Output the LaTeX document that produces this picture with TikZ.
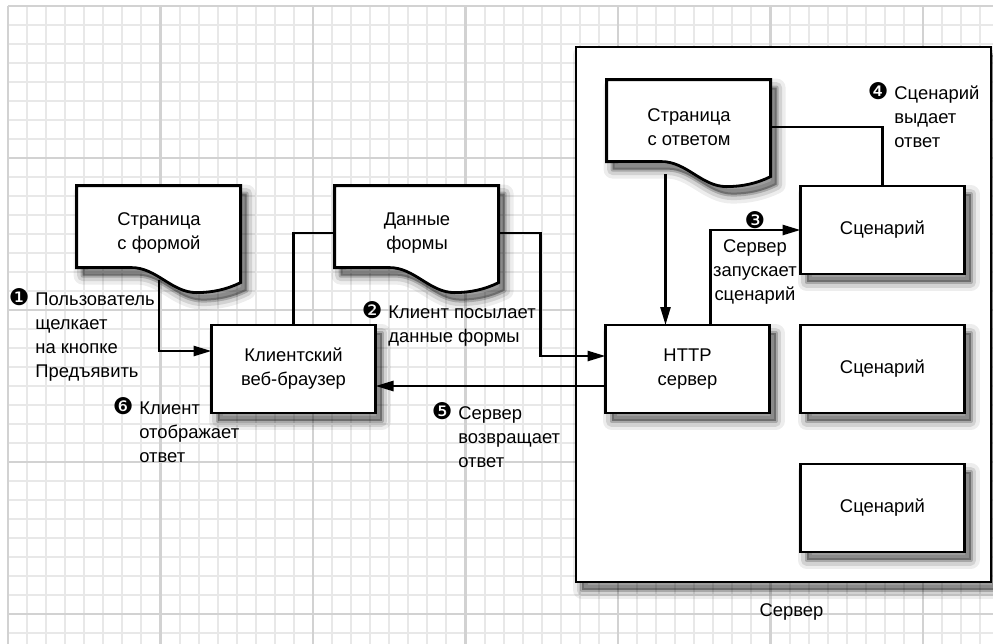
\documentclass[tikz,border=0pt]{standalone}
\usepackage{fontspec}
\setmainfont{Liberation Sans}
\newfontfamily\dingfont{DejaVu Sans}
\usetikzlibrary{arrows.meta,positioning,calc,fit,shadows}
\definecolor{GridMinor}{HTML}{E8E8E8}
\definecolor{GridMajor}{HTML}{D2D2D2}
\pgfdeclarelayer{grid}
\pgfdeclarelayer{frame}
\pgfdeclarelayer{lines}
\pgfdeclarelayer{docs}
\pgfsetlayers{grid,frame,lines,docs,main}
\newcommand{\stepmark}[1]{\llap{{\dingfont\fontsize{11.5}{12}\selectfont #1}\hspace{3pt}}}
\newcommand{\docoutline}[1]{%
  \path[docpage, shift={(#1.north west)}, x=1pt, y=1pt]
    (0,0) -- (82,0) -- (82,-48.5)
    .. controls (75,-52) and (67.5,-53.5) .. (60,-53.5)
    .. controls (47.5,-53.5) and (40,-41) .. (27.5,-41)
    -- (0,-41) -- cycle;}
\tikzset{
  flow/.style={-{Triangle[length=9pt,width=5pt]}, line width=1.3pt},
  link/.style={line width=1.3pt},
  softshadow/.style={
    general shadow={draw=black, fill=black, line width=9pt, line join=round, opacity=.07,
                    shadow xshift=3pt, shadow yshift=-4pt},
    general shadow={draw=black, fill=black, line width=5.5pt, line join=round, opacity=.11,
                    shadow xshift=3pt, shadow yshift=-4pt},
    general shadow={draw=black, fill=black, line width=2pt, line join=round, opacity=.2,
                    shadow xshift=3pt, shadow yshift=-4pt}},
  box/.style={draw, line width=1.4pt, fill=white, minimum width=82pt, outer sep=0pt,
              minimum height=44pt, align=center, inner sep=2pt, softshadow},
  doc/.style={minimum width=82pt, minimum height=47pt, align=center, inner sep=0pt},
  docpage/.style={draw, line width=1.4pt, fill=white, softshadow},
  serverframe/.style={draw, line width=1.4pt, fill=white, inner sep=0pt, softshadow},
  note/.style={align=left, anchor=north west, inner sep=0pt},
  minorgrid/.style={draw=GridMinor, line width=1pt},
  majorgrid/.style={draw=GridMajor, line width=1.3pt},
}

\begin{document}
\begin{tikzpicture}[x=0.5pt, y=-0.5pt, font=\fontsize{9.2}{12}\selectfont]
  \useasboundingbox (0,0) rectangle (993,644);
  \begin{pgfonlayer}{grid}
    \fill[white] (0,0) rectangle (993,644);
    \foreach \i in {0,...,52} \draw[minorgrid] ({8+19.0625*\i},6) -- ({8+19.0625*\i},644);
    \foreach \j in {0,...,33} \draw[minorgrid] (8,{6+19*\j}) -- (993,{6+19*\j});
    \foreach \i in {0,...,6} \draw[majorgrid] ({8+152.5*\i},6) -- ({8+152.5*\i},644);
    \foreach \j in {0,...,4} \draw[majorgrid] (8,{6+152*\j}) -- (993,{6+152*\j});
  \end{pgfonlayer}

  % documents
  \node[doc] (formpage) at (159,233) {Страница\\с формой};
  \node[doc] (formdata) at (417,233) {Данные\\формы};
  \node[doc] (replypage) at (689,127) {Страница\\с ответом};

  % programs
  \node[box] (browser) at (293.5,369) {Клиентский\\веб-браузер};
  \node[box,right=115pt of browser] (httpd) {HTTP\\сервер};
  \node[box,right=15.5pt of httpd] (script2) {Сценарий};
  \node[box,above=25.5pt of script2] (script1) {Сценарий};
  \node[box,below=25.5pt of script2] (script3) {Сценарий};

  \begin{pgfonlayer}{frame}
    \node[serverframe, fit={(576,47) (991,582)}] (server) {};
  \end{pgfonlayer}
  \node[below=6.5pt of server, xshift=4pt] (serverlabel) {Сервер};

  \begin{pgfonlayer}{docs}
    \docoutline{formpage}
    \docoutline{formdata}
    \docoutline{replypage}
  \end{pgfonlayer}

  \begin{pgfonlayer}{lines}
    \draw[flow] (formpage.south) |- ([yshift=9pt]browser.west);
    \draw[link] (browser.north) |- (formdata.west);
    \draw[flow] (formdata.east) -- ++(20.5pt,0) |- ([yshift=6.5pt]httpd.west);
    \draw[flow] ([yshift=-8.5pt]httpd.west) -- ([yshift=-8.5pt]browser.east);
    \coordinate (pagein) at ([xshift=-11pt]httpd.north);
    \draw[flow] (replypage.south -| pagein) -- (pagein);
    \draw[flow] ([xshift=11.5pt]httpd.north) |- (script1.west);
    \draw[link] (script1.north) |- (replypage.east);
  \end{pgfonlayer}

  % steps
  \node[note] (step1) at (35,288) {\stepmark{❶}Пользователь\\щелкает\\на кнопке\\Предъявить};
  \node[note] (step2) at (388,301) {\stepmark{❷}Клиент посылает\\данные формы};
  \node[align=center, inner sep=0pt, anchor=north] (step3) at (755,211) {{\dingfont\fontsize{11.5}{12}\selectfont ❸}\\Сервер\\запускает\\сценарий};
  \node[note] (step4) at (894,82) {\stepmark{❹}Сценарий\\выдает\\ответ};
  \node[note] (step5) at (458,402) {\stepmark{❺}Сервер\\возвращает\\ответ};
  \node[note] (step6) at (139,397) {\stepmark{❻}Клиент\\отображает\\ответ};
\end{tikzpicture}
\end{document}
